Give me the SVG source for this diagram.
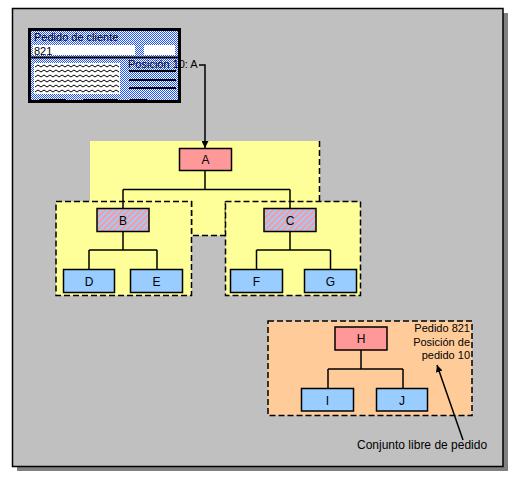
<svg xmlns="http://www.w3.org/2000/svg" width="519" height="479" viewBox="0 0 519 479">
<defs>
<pattern id="dots" patternUnits="userSpaceOnUse" width="2" height="2">
<rect width="2" height="2" fill="#ffffff"/>
<rect x="0" y="0" width="1" height="1" fill="#2255ff"/>
<rect x="1" y="1" width="1" height="1" fill="#2255ff"/>
</pattern>
<pattern id="stripes" patternUnits="userSpaceOnUse" width="6" height="6">
<rect width="6" height="6" fill="#FF9999"/>
<path d="M-3,3 L3,-3 M0,6 L6,0 M3,9 L9,3" stroke="#99CCFF" stroke-width="2.1"/>
</pattern>
<marker id="arr" viewBox="0 0 10 10" refX="10" refY="5" markerWidth="7" markerHeight="7" markerUnits="userSpaceOnUse" orient="auto">
<path d="M0,0 L10,5 L0,10 z" fill="#000"/>
</marker>
</defs>
<style>
text{font-family:"Liberation Sans",Arial,sans-serif;font-size:11px;fill:#000}
.c{text-anchor:middle}
.r{text-anchor:end}
.node rect{stroke:#000;stroke-width:1.5}
.node text{font-size:12px}
.pink{fill:#FF9999}
.blue{fill:#99CCFF}
.str{fill:url(#stripes)}
.dash{stroke:#000;stroke-width:1.5;stroke-dasharray:6,3;fill:none}
.conn path{fill:none;stroke:#000;stroke-width:1.5}
</style>
<rect x="17" y="13" width="491" height="458" fill="#808080"/>
<rect x="12.5" y="8.5" width="490.5" height="458" fill="#C0C0C0" stroke="#000" stroke-width="1.5"/>

<g id="document">
<rect x="29.5" y="29.5" width="150" height="72" fill="url(#dots)" stroke="#000" stroke-width="3"/>
<rect x="33" y="45" width="102" height="10" fill="#fff"/>
<rect x="144" y="45" width="31" height="10" fill="#fff"/>
<line x1="31" y1="57.5" x2="178" y2="57.5" stroke="#000" stroke-width="2"/>
<rect x="34" y="63" width="86" height="31" fill="#fff"/>
<g fill="none" stroke="#000" stroke-width="1">
<path d="M35,67 l3,-2 l3,2 l3,-2 l3,2 l3,-2 l3,2 l3,-2 l3,2 l3,-2 l3,2 l3,-2 l3,2 l3,-2 l3,2 l3,-2 l3,2 l3,-2 l3,2 l3,-2 l3,2 l3,-2 l3,2 l3,-2 l3,2 l3,-2 l3,2 l3,-2 l3,2"/>
<path d="M35,72 l3,-2 l3,2 l3,-2 l3,2 l3,-2 l3,2 l3,-2 l3,2 l3,-2 l3,2 l3,-2 l3,2 l3,-2 l3,2 l3,-2 l3,2 l3,-2 l3,2 l3,-2 l3,2 l3,-2 l3,2 l3,-2 l3,2 l3,-2 l3,2 l3,-2 l3,2"/>
<path d="M35,77 l3,-2 l3,2 l3,-2 l3,2 l3,-2 l3,2 l3,-2 l3,2 l3,-2 l3,2 l3,-2 l3,2 l3,-2 l3,2 l3,-2 l3,2 l3,-2 l3,2 l3,-2 l3,2 l3,-2 l3,2 l3,-2 l3,2 l3,-2 l3,2 l3,-2 l3,2"/>
<path d="M35,82 l3,-2 l3,2 l3,-2 l3,2 l3,-2 l3,2 l3,-2 l3,2 l3,-2 l3,2 l3,-2 l3,2 l3,-2 l3,2 l3,-2 l3,2 l3,-2 l3,2 l3,-2 l3,2 l3,-2 l3,2 l3,-2 l3,2 l3,-2 l3,2 l3,-2 l3,2"/>
<path d="M35,87 l3,-2 l3,2 l3,-2 l3,2 l3,-2 l3,2 l3,-2 l3,2 l3,-2 l3,2 l3,-2 l3,2 l3,-2 l3,2 l3,-2 l3,2 l3,-2 l3,2 l3,-2 l3,2 l3,-2 l3,2 l3,-2 l3,2 l3,-2 l3,2 l3,-2 l3,2"/>
<path d="M35,92 l3,-2 l3,2 l3,-2 l3,2 l3,-2 l3,2 l3,-2 l3,2 l3,-2 l3,2 l3,-2 l3,2 l3,-2 l3,2 l3,-2 l3,2 l3,-2 l3,2 l3,-2 l3,2 l3,-2 l3,2 l3,-2 l3,2 l3,-2 l3,2 l3,-2 l3,2"/>
</g>
<g stroke="#000" stroke-width="2">
<line x1="129" y1="71" x2="176" y2="71"/>
<line x1="129" y1="80" x2="176" y2="80"/>
<line x1="129" y1="88" x2="176" y2="88"/>
</g>
<g fill="#000">
<rect x="39" y="99" width="27" height="3"/>
<rect x="83" y="99" width="35" height="3"/>
<rect x="130" y="99" width="17" height="3"/>
</g>
<text x="34" y="41">Pedido de cliente</text>
<text x="34" y="54.5">821</text>
<text x="128" y="67.5">Posición 10: A</text>
</g>

<g id="group-A">
<rect x="90" y="141" width="230" height="94.5" fill="#FFFF99"/>
<path class="dash" d="M319.5,141 V201.5"/>
<path class="dash" d="M191.5,201 V235.5 H225.5 V201"/>
</g>
<g id="group-B">
<rect x="56" y="201.5" width="135.5" height="94" class="dash" style="fill:#FFFF99"/>
</g>
<g id="group-C">
<rect x="225.5" y="201.5" width="135" height="94" class="dash" style="fill:#FFFF99"/>
</g>
<g id="group-H">
<rect x="268" y="321" width="204" height="94.5" class="dash" style="fill:#FFCC99"/>
<text class="r" x="470" y="332">Pedido 821</text>
<text class="r" x="470" y="345.5">Posición de</text>
<text class="r" x="470" y="359">pedido 10</text>
</g>

<g class="conn" id="connectors">
<path d="M199,65 H205 V148" marker-end="url(#arr)"/>
<path d="M205,170 V189.5 M123,189.5 H290 M123,189.5 V208.5 M290,189.5 V208.5"/>
<path d="M123,231 V250 M89,250 H157 M89,250 V269.5 M157,250 V269.5"/>
<path d="M290,231 V250 M256.5,250 H330.5 M256.5,250 V269.5 M330.5,250 V269.5"/>
<path d="M361,350 V369 M328,369 H403 M328,369 V388.5 M403,369 V388.5"/>
<path d="M463,440 L437,365" stroke-width="1" marker-end="url(#arr)"/>
</g>

<g id="node-A" class="node"><rect class="pink" x="179.5" y="148.5" width="52" height="22"/><text class="c" x="205.5" y="164">A</text></g>
<g id="node-B" class="node"><rect class="str" x="97" y="208.5" width="52" height="23"/><text class="c" x="123" y="224.5">B</text></g>
<g id="node-C" class="node"><rect class="str" x="264" y="208.5" width="52" height="23"/><text class="c" x="290" y="224.5">C</text></g>
<g id="node-D" class="node"><rect class="blue" x="63.5" y="269.5" width="51" height="23"/><text class="c" x="89" y="285.5">D</text></g>
<g id="node-E" class="node"><rect class="blue" x="130.5" y="269.5" width="52" height="23"/><text class="c" x="156.5" y="285.5">E</text></g>
<g id="node-F" class="node"><rect class="blue" x="230.5" y="269.5" width="52" height="23"/><text class="c" x="256.5" y="285.5">F</text></g>
<g id="node-G" class="node"><rect class="blue" x="304.5" y="269.5" width="52" height="23"/><text class="c" x="330.5" y="285.5">G</text></g>
<g id="node-H" class="node"><rect class="pink" x="335" y="327" width="52" height="23"/><text class="c" x="361" y="343">H</text></g>
<g id="node-I" class="node"><rect class="blue" x="301.5" y="388.5" width="52" height="22.5"/><text class="c" x="327.5" y="404.5">I</text></g>
<g id="node-J" class="node"><rect class="blue" x="376.5" y="388.5" width="51" height="22.5"/><text class="c" x="402" y="404.5">J</text></g>

<text x="357" y="449" style="font-size:12px">Conjunto libre de pedido</text>
</svg>
